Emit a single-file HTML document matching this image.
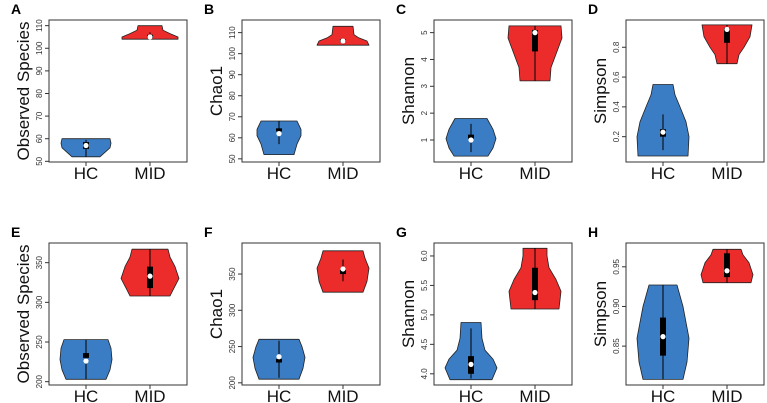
<!DOCTYPE html>
<html><head><meta charset="utf-8"><style>
body{margin:0;background:#fff;width:767px;height:403px;overflow:hidden}
svg{display:block;font-family:"Liberation Sans",Arial,sans-serif}
</style></head><body>
<svg id="fig" width="767" height="403"></svg>
<script>
// Panel metadata
const panelLetters = ["A","B","C","D","E","F","G","H"];
const yTitles = ["Observed Species","Chao1","Shannon","Simpson","Observed Species","Chao1","Shannon","Simpson"];
const categories = ["HC","MID"];
const yLimits = [[49.7,112.5],[48.5,116],[0.18,5.47],[0.03,0.983],[195.8,374.8],[197,392.8],[3.81,6.22],[0.801,0.980]];
const yTickLabels = [[50,60,70,80,90,100,110],[50,60,70,80,90,100,110],[1,2,3,4,5],[0.2,0.4,0.6,0.8],[200,250,300,350],[200,250,300,350],[4.0,4.5,5.0,5.5,6.0],[0.85,0.90,0.95]];
// violin profiles: [value, half-width in px]
const hcProfiles = [
 [[52,14],[54,19],[56,24],[58,25],[60,24]],
 [[52,15],[57,18],[61,22],[64,22],[66,20],[68,18]],
 [[0.4,17],[0.7,22],[1.05,25],[1.4,22],[1.8,16]],
 [[0.07,25],[0.2,26],[0.3,23],[0.4,17],[0.48,12],[0.55,10]],
 [[203,20],[215,24],[228,26],[242,25],[253,22]],
 [[205,20],[220,24],[235,26],[250,23],[260,20]],
 [[3.9,21],[4.1,26],[4.25,22],[4.4,14],[4.6,11],[4.87,10]],
 [[0.808,20],[0.83,24],[0.86,26],[0.9,20],[0.927,14]]
];
const midProfiles = [
 [[104,28],[105,28],[106.5,20],[108,13],[110,12]],
 [[104,26],[106,24],[107.5,16],[109,11],[113,10]],
 [[3.2,15],[3.7,16],[4.2,21],[4.8,27],[5.25,26]],
 [[0.69,10],[0.75,12],[0.8,17],[0.87,23],[0.95,25]],
 [[308,20],[318,24],[330,29],[345,25],[357,20],[367,18]],
 [[325,20],[340,24],[358,26],[372,22],[382,20]],
 [[5.1,24],[5.4,26],[5.6,21],[5.8,14],[6.0,12],[6.13,12]],
 [[0.93,24],[0.94,26],[0.955,22],[0.965,16],[0.972,14]]
];
// stats: [whiskerLow, q1, median, q3, whiskerHigh]
const hcStats = [[52,55.5,57,58.5,59.5],[57,63,62,64.5,68],[0.55,1.05,1.0,1.2,1.6],[0.11,0.2,0.23,0.25,0.35],[203,230,226,236,253],[207,228,236,233,258],[3.92,4.0,4.16,4.3,4.77],[0.808,0.838,0.862,0.886,0.927]];
const midStats = [[104,104.5,105,106,107],[104.5,105.5,106,106.8,107.5],[3.2,4.3,5.0,5.1,5.25],[0.69,0.83,0.92,0.93,0.95],[308,318,333,345,367],[340,350,357,356,370],[5.1,5.25,5.38,5.8,6.13],[0.93,0.937,0.945,0.967,0.972]];

const NS="http://www.w3.org/2000/svg";
const svg=document.getElementById('fig');
function mk(tag,attrs,parent){const e=document.createElementNS(NS,tag);for(const k in attrs)e.setAttribute(k,attrs[k]);(parent||svg).appendChild(e);return e;}
const boxW=138, boxH=142;
const lefts=[49,242,434,626], tops=[20,243];
const colors=["#3b7dc5","#ec2b2b"];
for(let p=0;p<8;p++){
  const bx=lefts[p%4], by=tops[Math.floor(p/4)];
  const [y0,y1]=yLimits[p];
  const Y=v=>by+boxH-(v-y0)/(y1-y0)*boxH;
  const X=i=>bx+37+i*64;
  const g=mk('g',{});
  
  
  const lt=mk('text',{x:bx-38,y:by-6,'font-size':14,'font-weight':'bold'},g);lt.textContent=panelLetters[p];
  
  
  [hcProfiles[p],midProfiles[p]].forEach((prof,i)=>{
    const cx=X(i);
    let pts=prof.map(d=>[cx+d[1],Y(d[0])]);
    let left=prof.slice().reverse().map(d=>[cx-d[1],Y(d[0])]);
    const path=mk('polygon',{points:pts.concat(left).map(q=>q[0].toFixed(1)+','+q[1].toFixed(1)).join(' '),fill:colors[i],stroke:'#222','stroke-width':0.8,'stroke-linejoin':'round'},g);
    
    
    const s=(i?midStats:hcStats)[p];
    const w=mk('line',{x1:cx,x2:cx,y1:Y(s[0]),y2:Y(s[4]),stroke:'#000','stroke-width':1},g);
    
    
    const qa=Math.min(s[1],s[3]),qb=Math.max(s[1],s[3]);
    const bxr=mk('rect',{x:cx-3,y:Y(qb),width:6,height:Math.max(2,Y(qa)-Y(qb)),fill:'#000'},g);
    
    
    const md=mk('circle',{cx:cx,cy:Y(s[2]),r:2.6,fill:'#fff'},g);
    
    
    const xl=mk('line',{x1:cx,x2:cx,y1:by+boxH,y2:by+boxH+4,stroke:'#333'},g);
    
    
    const xt=mk('text',{x:cx,y:by+boxH+17,'font-size':17,'text-anchor':'middle',fill:'#111'},g);xt.textContent=categories[i];
    
    
  });
  const frame=mk('rect',{x:bx,y:by,width:boxW,height:boxH,fill:'none',stroke:'#333','stroke-width':1},g);
  
  
  yTickLabels[p].forEach(t=>{
    const yy=Y(t);
    const tl=mk('line',{x1:bx-4,x2:bx,y1:yy,y2:yy,stroke:'#333'},g);
    
    
    const tt=mk('text',{x:bx-7,y:yy,'font-size':8,'text-anchor':'middle',fill:'#333',transform:`rotate(-90 ${bx-7} ${yy})`},g);
    tt.textContent=(p===6?t.toFixed(1):p===7?t.toFixed(2):String(t));
    
    
  });
  const ty=by+boxH/2, tx=bx-20;
  const yt=mk('text',{x:tx,y:ty,'font-size':17,'text-anchor':'middle',fill:'#111',transform:`rotate(-90 ${tx} ${ty})`},g);
  yt.textContent=yTitles[p];
  
  
}
</script>
</body></html>
